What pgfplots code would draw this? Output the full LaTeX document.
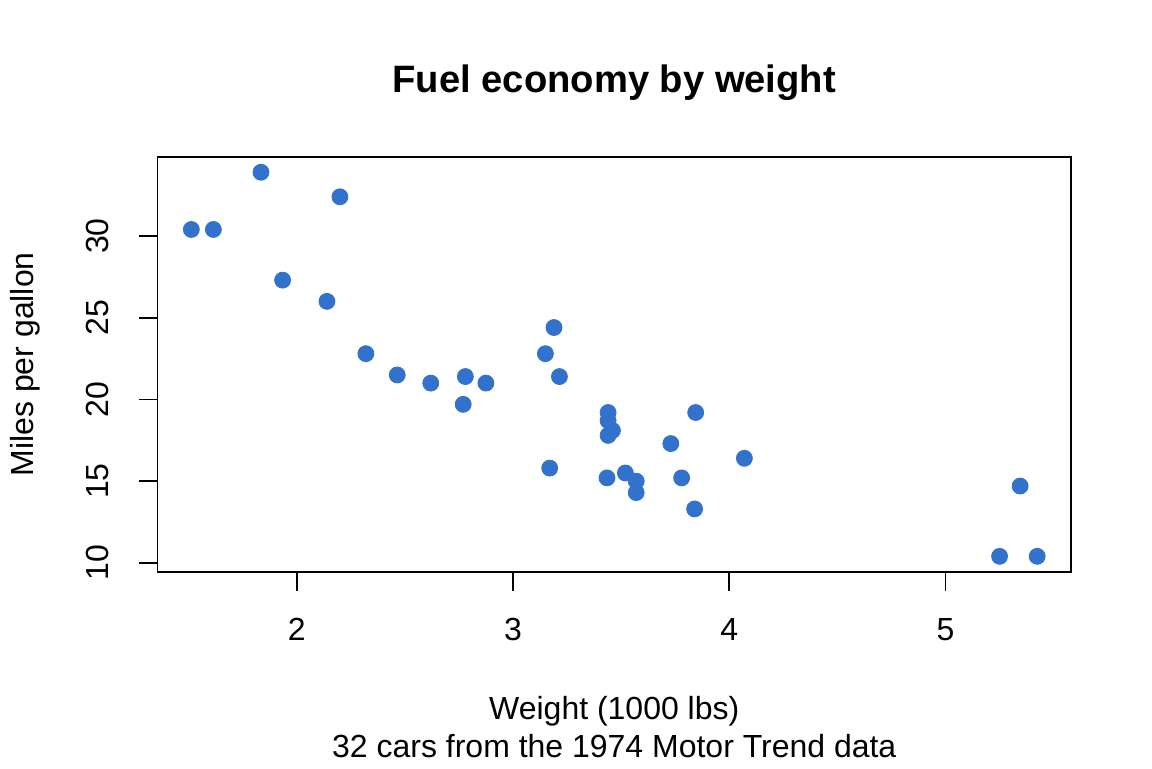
\documentclass[border=0pt]{standalone}
\usepackage{pgfplots}
\pgfplotsset{compat=1.18}
\usepackage{fontspec}
\setmainfont{Liberation Sans}
\definecolor{dotblue}{RGB}{50,114,205}

% mtcars: weight (1000 lbs) and miles per gallon
\pgfplotstableread{
wt mpg
2.620 21.0
2.875 21.0
2.320 22.8
3.215 21.4
3.440 18.7
3.460 18.1
3.570 14.3
3.190 24.4
3.150 22.8
3.440 19.2
3.440 17.8
4.070 16.4
3.730 17.3
3.780 15.2
5.250 10.4
5.424 10.4
5.345 14.7
2.200 32.4
1.615 30.4
1.835 33.9
2.465 21.5
3.520 15.5
3.435 15.2
3.840 13.3
3.845 19.2
1.935 27.3
2.140 26.0
1.513 30.4
3.170 15.8
2.770 19.7
3.570 15.0
2.780 21.4
}\cars

\begin{document}
\fontsize{16pt}{19pt}\selectfont
\begin{tikzpicture}[x=1pt,y=1pt]
  \path (0,0) rectangle (576,384);
  \begin{axis}[
    at={(78.5pt,98pt)}, anchor=south west,
    scale only axis, width=457pt, height=207.5pt,
    xmin=1.3566, xmax=5.5804, ymin=9.46, ymax=34.84,
    axis line style={line width=0.9pt},
    tick style={line width=0.9pt, black},
    tick align=outside, major tick length=9.5pt,
    xtick={2,3,4,5}, ytick={10,15,20,25,30},
    xtick pos=bottom, ytick pos=left,
    /pgf/number format/assume math mode=true,
    tick label style={font=\fontsize{16pt}{19pt}\selectfont},
    xticklabel style={anchor=center, yshift=-19.5pt},
    yticklabel style={rotate=90, anchor=center, yshift=20.5pt},
    clip=false,
  ]
    \addplot[only marks, mark=*, mark size=4pt,
      mark options={fill=dotblue, draw=dotblue}] table[x=wt, y=mpg] {\cars};
  \end{axis}
  \node[font=\fontsize{19.1pt}{23pt}\selectfont\bfseries] at (307,342.5) {Fuel economy by weight};
  \node at (307,28) {Weight (1000 lbs)};
  \node at (307,11) {32 cars from the 1974 Motor Trend data};
  \node[rotate=90] at (12.5,201.75) {Miles per gallon};
\end{tikzpicture}
\end{document}
